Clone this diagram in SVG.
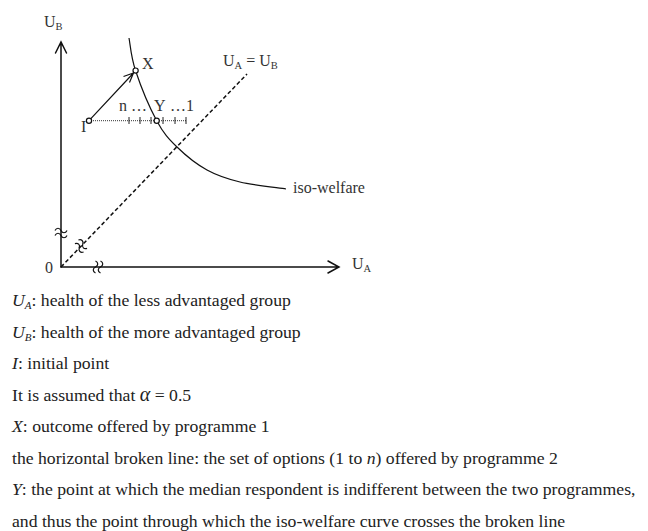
<svg xmlns="http://www.w3.org/2000/svg" width="648" height="531" viewBox="0 0 648 531">
<style>
.ax{stroke:#111;stroke-width:1.5;fill:none;stroke-linecap:round}
.ln{stroke:#111;stroke-width:1.2;fill:none}
.dash{stroke:#111;stroke-width:1.5;fill:none;stroke-dasharray:4,2.5}
.dot{stroke:#333;stroke-width:1;fill:none;stroke-dasharray:1,1}
.tick{stroke:#222;stroke-width:1}
.pt{fill:#fff;stroke:#111;stroke-width:1.2}
.lbl{font-family:"Liberation Serif",serif;font-size:16px;fill:#333}
.sub{font-size:10.5px}
.cap{font-family:"Liberation Serif",serif;font-size:17.7px;fill:#222}
.it{font-style:italic}
.brk{stroke:#111;stroke-width:1.2;fill:none}
</style>
<defs>
<g id="brk">
<path class="brk" d="M-2.5,-6 C0.5,-4.5 0.5,-1.5 -2.5,0 C-5.5,1.5 -5.5,4.5 -2.5,6"/>
<path class="brk" d="M2.5,-6 C5.5,-4.5 5.5,-1.5 2.5,0 C-0.5,1.5 -0.5,4.5 2.5,6"/>
</g>
</defs>
<g id="connectors">
<path id="axis-y" class="ax" d="M61,267 V42 M55.5,53 L61,42 L66.5,53"/>
<path id="axis-x" class="ax" d="M61,267 H339 M328,261 L339,267 L328,273"/>
<path id="diagonal" class="dash" d="M61,267 L247,74"/>
<path id="iso-welfare-curve" class="ln" d="M129,38 C130.1,43.4 130.9,56.7 135.5,70.5 C140.1,84.3 149.8,108 156.7,120.7 C163.6,133.5 168.6,138.8 177,147 C185.4,155.2 196.5,164.2 207,170 C217.5,175.8 226.8,178.8 240,182 C253.2,185.2 278.3,187.8 286,189"/>
<path id="options-line" class="dot" d="M89,120.7 H186"/>
<g id="ticks">
<line class="tick" x1="129" y1="117" x2="129" y2="124"/>
<line class="tick" x1="140" y1="117" x2="140" y2="124"/>
<line class="tick" x1="151" y1="117" x2="151" y2="124"/>
<line class="tick" x1="163" y1="117" x2="163" y2="124"/>
<line class="tick" x1="175" y1="117" x2="175" y2="124"/>
<line class="tick" x1="186" y1="117" x2="186" y2="124"/>
</g>
<path id="arrow-I-X" class="ln" d="M89,120.7 L133.5,73 M123.5,76.5 L133.5,73 L129.5,82.5"/>
<use href="#brk" transform="translate(98,267)"/>
<use href="#brk" transform="translate(61,233) rotate(90)"/>
<use href="#brk" transform="translate(81,246) rotate(-46)"/>
</g>
<g id="node-I">
<circle class="pt" cx="89" cy="120.7" r="2.6"/>
<text class="lbl" x="81" y="132">I</text>
</g>
<g id="node-X">
<circle class="pt" cx="135.6" cy="70.6" r="2.6"/>
<text class="lbl" x="142" y="69">X</text>
</g>
<g id="node-Y">
<circle class="pt" cx="156.7" cy="120.7" r="2.6"/>
<text class="lbl" x="119" y="111">n</text>
<text class="lbl" x="131" y="111">…</text>
<text class="lbl" x="154" y="111">Y</text>
<text class="lbl" x="170" y="111">…</text>
<text class="lbl" x="186" y="111">1</text>
</g>
<g id="labels">
<text class="lbl" x="44" y="27">U<tspan class="sub" dy="3">B</tspan></text>
<text class="lbl" x="352" y="269">U<tspan class="sub" dy="3">A</tspan></text>
<text class="lbl" x="45" y="273">0</text>
<text class="lbl" x="223" y="66">U<tspan class="sub" dy="3">A</tspan><tspan dy="-3"> = U</tspan><tspan class="sub" dy="3">B</tspan></text>
<text class="lbl" x="293" y="193">iso-welfare</text>
</g>
<g id="caption">
<text class="cap" x="12" y="306"><tspan class="it">U</tspan><tspan class="it" font-size="11" dy="3">A</tspan><tspan dy="-3">: health of the less advantaged group</tspan></text>
<text class="cap" x="12" y="337.5"><tspan class="it">U</tspan><tspan class="it" font-size="11" dy="3">B</tspan><tspan dy="-3">: health of the more advantaged group</tspan></text>
<text class="cap" x="12" y="369"><tspan class="it">I</tspan>: initial point</text>
<text class="cap" x="12" y="400.5">It is assumed that <tspan class="it" font-size="20">α</tspan> = 0.5</text>
<text class="cap" x="12" y="432"><tspan class="it">X</tspan>: outcome offered by programme 1</text>
<text class="cap" x="12" y="463.5">the horizontal broken line: the set of options (1 to <tspan class="it">n</tspan>) offered by programme 2</text>
<text class="cap" x="12" y="495"><tspan class="it">Y</tspan>: the point at which the median respondent is indifferent between the two programmes,</text>
<text class="cap" x="12" y="526.5">and thus the point through which the iso-welfare curve crosses the broken line</text>
</g>
</svg>
